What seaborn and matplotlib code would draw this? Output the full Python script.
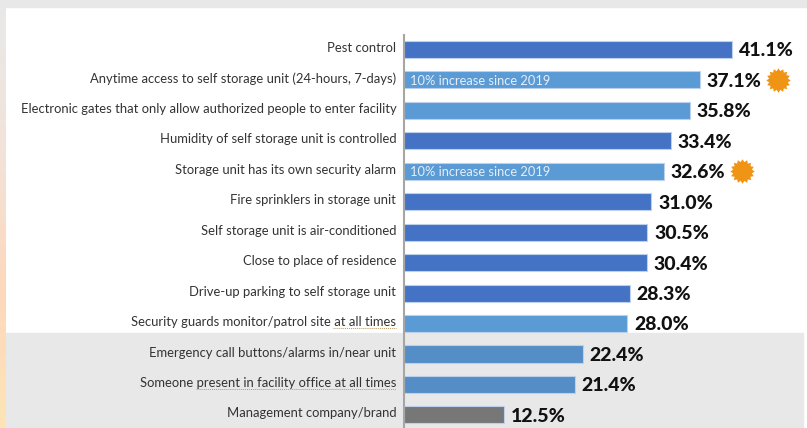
import numpy as np
import pandas as pd
import matplotlib
matplotlib.use("Agg")
import matplotlib.pyplot as plt
from matplotlib.colors import LinearSegmentedColormap
from matplotlib.lines import Line2D
from matplotlib.patches import Rectangle
from matplotlib.path import Path
from matplotlib.transforms import ScaledTranslation
import seaborn as sns

# datos
categorias = [
    "Pest control",
    "Anytime access to self storage unit (24-hours, 7-days)",
    "Electronic gates that only allow authorized people to enter facility",
    "Humidity of self storage unit is controlled",
    "Storage unit has its own security alarm",
    "Fire sprinklers in storage unit",
    "Self storage unit is air-conditioned",
    "Close to place of residence",
    "Drive-up parking to self storage unit",
    "Security guards monitor/patrol site at all times",
    "Emergency call buttons/alarms in/near unit",
    "Someone present in facility office at all times",
    "Management company/brand",
]
valores = [41.1, 37.1, 35.8, 33.4, 32.6, 31.0, 30.5, 30.4, 28.3, 28.0, 22.4, 21.4, 12.5]
grupos = ["a", "b", "b", "a", "b", "a", "a", "a", "a", "b", "c", "c", "d"]
con_aumento = ["Anytime access to self storage unit (24-hours, 7-days)",
               "Storage unit has its own security alarm"]
nota_aumento = "10% increase since 2019"

colores = {"a": "#4472c4", "b": "#5b9bd5", "c": "#558ec6", "d": "#777777"}
W, H = 807, 428

df = pd.DataFrame({"categoria": categorias, "valor": valores, "grupo": grupos})

sns.set_style("white")
plt.rcParams["font.family"] = ["Lato", "DejaVu Sans"]

fig = plt.figure(figsize=(W / 100, H / 100), dpi=100, facecolor="white")

# fondo: banda gris arriba, franja degradada a la izquierda, zona gris abajo
fig.add_artist(Rectangle((0, 1 - 7 / H), 1, 7 / H, transform=fig.transFigure, color="#e8e8e8", zorder=-3))
fig.add_artist(Rectangle((6 / W, 0), 797 / W, (H - 333) / H, transform=fig.transFigure, color="#e8e8e8", zorder=-3))
franja = fig.add_axes([0, 0, 6 / W, 1 - 7 / H], zorder=-2)
cmap = LinearSegmentedColormap.from_list("franja", ["#e9e9e9", "#f2e3d9", "#fdd8bd", "#fee4b6"])
franja.imshow(np.linspace(0, 1, 200).reshape(-1, 1), aspect="auto", cmap=cmap)
franja.axis("off")

ax = fig.add_axes([404 / W, 0, (W - 404) / W, (H - 35) / H])
ax.patch.set_alpha(0)

sns.barplot(data=df, y="categoria", x="valor", hue="grupo", palette=colores, dodge=False,
            order=categorias, width=0.56, legend=False, saturation=1,
            edgecolor="#bcd0ec", linewidth=0.8, ax=ax)

ax.set_xlim(0, (W - 404) / 7.98)
ax.set_ylim((H - 49.5) / 30.45, -14.5 / 30.45)
ax.set_xlabel("")
ax.set_ylabel("")
ax.set_xticks([])
ax.tick_params(axis="y", length=0, pad=5.5, labelsize=9.4, labelcolor="#333333")
# las etiquetas van un poco por encima del centro de la barra
subir = ScaledTranslation(0, 2.5 / 100, fig.dpi_scale_trans)
for lab in ax.get_yticklabels():
    lab.set_transform(lab.get_transform() + subir)
sns.despine(ax=ax, left=False, right=True, top=True, bottom=True)
ax.spines["left"].set_color("#a6a6a6")
ax.spines["left"].set_linewidth(1.5)

for i, (cat, val) in enumerate(zip(categorias, valores)):
    ax.annotate(f"{val:.1f}%", (val, i), xytext=(4.8, -1), textcoords="offset points",
                va="center", ha="left", fontsize=14, fontweight="black", color="#111111")
    if cat in con_aumento:
        ax.annotate(nota_aumento, (0, i), xytext=(4, -0.5), textcoords="offset points",
                    va="center", ha="left", fontsize=9.3, color="#e4eef8")

# estrellas naranjas despues de la etiqueta
estrella = Path.unit_regular_star(16, innerCircle=0.78)
idx = [categorias.index(c) for c in con_aumento]
ax.scatter([valores[i] + 78 / 7.98 for i in idx], idx, marker=estrella, s=310,
           color="#f09415", linewidths=0, zorder=5, clip_on=False)

# subrayado punteado del corrector
for x0, x1, y in [(333, 396, 328), (196, 396, 389)]:
    fig.add_artist(Line2D([x0 / W, x1 / W], [1 - y / H, 1 - y / H], transform=fig.transFigure,
                          color="#b89a5a", linewidth=0.7, linestyle=(0, (1, 1))))

plt.savefig("out.png", dpi=100)
